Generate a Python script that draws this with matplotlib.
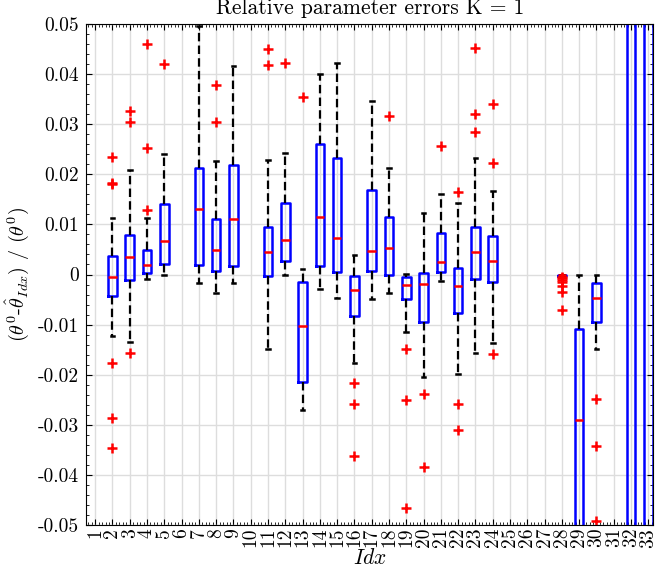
import numpy as np
import matplotlib.pyplot as plt
from matplotlib.ticker import MultipleLocator, FixedLocator

plt.rcParams['font.family'] = 'serif'
plt.rcParams['font.serif'] = ['cmr10', 'DejaVu Serif']
plt.rcParams['mathtext.fontset'] = 'cm'
plt.rcParams['axes.unicode_minus'] = False
plt.rcParams['axes.formatter.use_mathtext'] = True

# box statistics (index -> values)
idx = [2, 3, 4, 5, 7, 8, 9, 11, 12, 13, 14, 15, 16, 17, 18, 19, 20, 21, 22, 23, 24, 28, 29, 30, 32, 33]
whishi = [0.0113, 0.0209, 0.0112, 0.0241, 0.0497, 0.0226, 0.0417, 0.0228, 0.0243, 0.0011,
          0.0401, 0.0423, 0.0039, 0.0347, 0.0213, 0.0001, 0.0123, 0.0161, 0.0143, 0.0232,
          0.0167, 0.0, 0.0, 0.0, 0.3, 0.3]
q3 = [0.0037, 0.0079, 0.0049, 0.0141, 0.0213, 0.0110, 0.0219, 0.0095, 0.0142, -0.0015,
      0.0261, 0.0232, -0.0002, 0.0168, 0.0115, -0.0005, 0.0003, 0.0083, 0.0013, 0.0095,
      0.0077, 0.0, -0.0109, -0.0017, 0.2, 0.2]
med = [-0.0005, 0.0035, 0.0019, 0.0067, 0.0130, 0.0049, 0.0110, 0.0044, 0.0069, -0.0102,
       0.0115, 0.0072, -0.0031, 0.0047, 0.0052, -0.0021, -0.0018, 0.0025, -0.0023, 0.0044,
       0.0027, -0.0001, -0.0291, -0.0047, 0.1, 0.1]
q1 = [-0.0043, -0.0011, 0.0004, 0.0021, 0.0018, 0.0007, 0.0016, -0.0003, 0.0027, -0.0214,
      0.0017, 0.0005, -0.0083, 0.0007, 0.0, -0.0049, -0.0094, 0.0006, -0.0076, -0.0009,
      -0.0015, -0.0002, -0.07, -0.0095, -0.2, -0.2]
whislo = [-0.0122, -0.0135, -0.0008, -0.0001, -0.0017, -0.0036, -0.0017, -0.0149, -0.0001, -0.0271,
          -0.0029, -0.0046, -0.0177, -0.0049, -0.0037, -0.0115, -0.0205, -0.0013, -0.0199, -0.0157,
          -0.0137, -0.0002, -0.09, -0.0149, -0.3, -0.3]
fliers = [
    [0.0235, 0.0183, 0.0180, -0.0177, -0.0287, -0.0346],
    [0.0327, 0.0305, -0.0157],
    [0.0461, 0.0253, 0.0129],
    [0.0420],
    [],
    [0.0378, 0.0305],
    [],
    [0.0451, 0.0419],
    [0.0423],
    [0.0355],
    [],
    [],
    [-0.0216, -0.0258, -0.0362],
    [],
    [0.0317],
    [-0.0149, -0.0250, -0.0466],
    [-0.0239, -0.0385],
    [0.0257],
    [0.0165, -0.0259, -0.0311],
    [0.0453, 0.0320, 0.0285],
    [0.0340, 0.0223, -0.0158],
    [-0.0004, -0.0007, -0.0010, -0.0014, -0.0023, -0.0035, -0.0071],
    [],
    [-0.0249, -0.0343, -0.0491],
    [],
    [],
]

xticks = list(range(1, 34))
yticks = [-0.05, -0.04, -0.03, -0.02, -0.01, 0, 0.01, 0.02, 0.03, 0.04, 0.05]
ylabels = ['-0.05', '-0.04', '-0.03', '-0.02', '-0.01', '0', '0.01', '0.02', '0.03', '0.04', '0.05']

stats = []
for i in range(len(idx)):
    stats.append(dict(med=med[i], q1=q1[i], q3=q3[i], whislo=whislo[i],
                      whishi=whishi[i], fliers=fliers[i]))

fig = plt.figure(figsize=(6.55, 5.77), dpi=100)
ax = fig.add_axes([0.1313, 0.0901, 0.8664, 0.8683])

ax.grid(True, color='#dddddd', linewidth=1.0)
ax.set_axisbelow(True)

ax.bxp(stats, positions=idx, widths=0.5, showfliers=True,
       boxprops=dict(color='blue', linewidth=1.8),
       medianprops=dict(color='red', linewidth=1.8),
       whiskerprops=dict(color='black', linewidth=1.6, linestyle=(0, (3.8, 1.9))),
       capprops=dict(color='black', linewidth=1.8),
       capwidths=0.22,
       flierprops=dict(marker='+', markeredgecolor='red', markersize=7, markeredgewidth=1.8))

ax.set_xlim(0.47, 33.3)
ax.set_ylim(-0.05, 0.05)
ax.xaxis.set_major_locator(FixedLocator(xticks))
ax.set_xticks(xticks)
ax.set_xticklabels([str(v) for v in xticks], rotation=90, fontsize=14)
ax.xaxis.set_minor_locator(MultipleLocator(0.2))
ax.set_yticks(yticks)
ax.set_yticklabels(ylabels, fontsize=14)
ax.yaxis.set_minor_locator(MultipleLocator(0.002))
ax.tick_params(which='both', direction='in', top=True, right=True, color='black')
ax.tick_params(which='major', length=4)
ax.tick_params(which='minor', length=2)
ax.tick_params(axis='x', which='major', pad=2)
ax.tick_params(axis='y', which='major', pad=5)
for s in ax.spines.values():
    s.set_linewidth(0.8)

ax.set_title('Relative parameter errors K = 1', fontsize=15.5, pad=7.5)
ax.set_xlabel(r'$Idx$', fontsize=15.5, labelpad=0)
ax.set_ylabel(r'$(\theta^0$-$\hat{\theta}_{Idx})$ / $(\theta^0)$', fontsize=14.5, labelpad=5)

fig.savefig('out.png', dpi=100)
